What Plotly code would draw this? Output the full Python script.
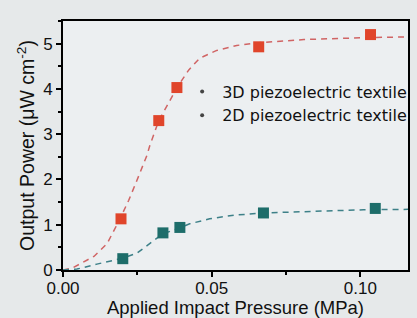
import plotly.graph_objects as go

# Measured points
pressure_3d = [0.0195, 0.0322, 0.0383, 0.0658, 0.1034]
power_3d = [1.13, 3.3, 4.03, 4.93, 5.2]
pressure_2d = [0.0201, 0.0336, 0.0393, 0.0674, 0.105]
power_2d = [0.25, 0.82, 0.94, 1.26, 1.36]

# Dashed fit curves
fit_x_3d = [0.0, 0.003, 0.0104, 0.0148, 0.0191, 0.0221, 0.0248, 0.0282, 0.0292, 0.0322,
            0.0356, 0.0383, 0.0423, 0.046, 0.0517, 0.0584, 0.0658, 0.081, 0.101, 0.116]
fit_y_3d = [0.0, 0.04, 0.30, 0.58, 1.12, 1.54, 1.97, 2.53, 2.75, 3.30,
            3.70, 4.03, 4.42, 4.68, 4.85, 4.96, 5.02, 5.09, 5.13, 5.15]
fit_x_2d = [0.0, 0.0047, 0.0114, 0.0158, 0.0201, 0.0248, 0.0292, 0.0336, 0.0393, 0.0426,
            0.0493, 0.0574, 0.0674, 0.0775, 0.0886, 0.101, 0.116]
fit_y_2d = [0.0, 0.02, 0.13, 0.19, 0.26, 0.37, 0.58, 0.80, 0.93, 1.02,
            1.13, 1.21, 1.26, 1.28, 1.31, 1.33, 1.34]

labels = ["3D piezoelectric textile", "2D piezoelectric textile"]
x_ticks = [0.0, 0.05, 0.10]
y_ticks = [0, 1, 2, 3, 4, 5]

red = "#e0452b"
teal = "#1d6d6a"
FONT = "Liberation Sans, Arial"

fig = go.Figure()
fig.add_trace(go.Scatter(x=fit_x_3d, y=fit_y_3d, mode="lines",
                         line=dict(color="#d06464", width=1.5, dash="6px,5px"),
                         showlegend=False, hoverinfo="skip"))
fig.add_trace(go.Scatter(x=fit_x_2d, y=fit_y_2d, mode="lines",
                         line=dict(color="#3d8088", width=1.5, dash="6px,5px"),
                         showlegend=False, hoverinfo="skip"))
fig.add_trace(go.Scatter(x=pressure_3d, y=power_3d, mode="markers",
                         marker=dict(symbol="square", size=11, color=red),
                         showlegend=False))
fig.add_trace(go.Scatter(x=pressure_2d, y=power_2d, mode="markers",
                         marker=dict(symbol="square", size=11, color=teal),
                         showlegend=False))
for name in labels:
    fig.add_trace(go.Scatter(x=[None], y=[None], mode="markers",
                             marker=dict(size=4, color="#444444"), name=name))

axis_common = dict(showline=True, linecolor="black", linewidth=2, mirror=True,
                   ticks="outside", ticklen=5, tickwidth=1.5, tickcolor="black",
                   showgrid=False, zeroline=False,
                   tickfont=dict(family=FONT, size=17, color="#111"))

fig.update_layout(
    width=417, height=318,
    margin=dict(l=63, r=5, t=21, b=45),
    paper_bgcolor="#e6e9ea",
    plot_bgcolor="#eceff1",
    font=dict(family=FONT, size=18, color="#111"),
    showlegend=True,
    legend=dict(x=1.012, y=0.785, xanchor="right", yanchor="top",
                bgcolor="rgba(0,0,0,0)", itemwidth=30,
                font=dict(family="DejaVu Sans", size=16, color="#111"), tracegroupgap=0),
)
fig.update_xaxes(range=[0, 0.116], tickvals=x_ticks, tickformat=".2f",
                 ticklabelstandoff=-3,
                 minor=dict(dtick=0.025, tick0=0, ticks="outside", ticklen=3, tickcolor="black"),
                 title=dict(text="Applied Impact Pressure (MPa)", standoff=2,
                            font=dict(size=18.5)),
                 **axis_common)
fig.update_yaxes(range=[0, 5.5], tickvals=y_ticks,
                 minor=dict(dtick=0.5, tick0=0, ticks="outside", ticklen=3, tickcolor="black"),
                 title=dict(text="Output Power (μW cm<sup>-2</sup>)", standoff=3,
                            font=dict(size=19.5)),
                 **axis_common)

fig.write_html("out.html", config={"displayModeBar": False},
               post_script="document.body.style.margin='0';document.body.style.background='#e6e9ea';")
